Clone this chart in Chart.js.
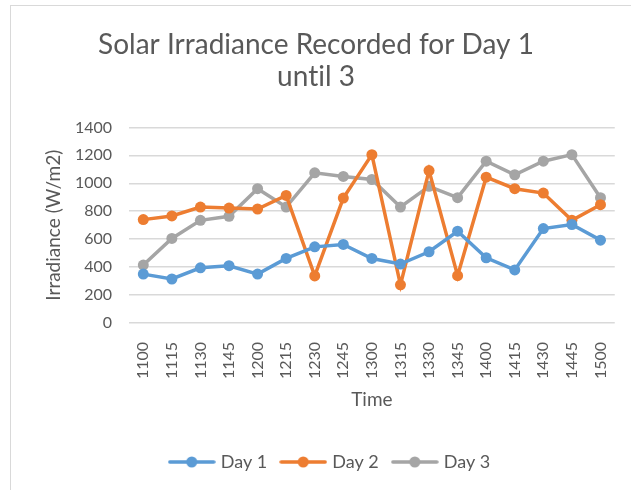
<!DOCTYPE html>
<html>
<head>
<meta charset="utf-8">
<script src="https://cdn.jsdelivr.net/npm/chart.js@4.4.0/dist/chart.umd.min.js"></script>
<style>
  html, body { margin: 0; padding: 0; background: #fff; }
  #frame {
    position: absolute; left: 10px; top: 5px; width: 700px; height: 600px;
    border: 1px solid #D9D9D9; box-sizing: border-box;
  }
  #wrap { position: absolute; left: 0; top: 0; width: 631px; height: 490px; }
</style>
</head>
<body>
<div id="frame"></div>
<div id="wrap"><canvas id="chart" width="631" height="490"></canvas></div>
<script>
const times = ["1100", "1115", "1130", "1145", "1200", "1215", "1230", "1245", "1300",
  "1315", "1330", "1345", "1400", "1415", "1430", "1445", "1500"];

const day1 = [350, 315, 395, 410, 350, 462, 545, 562, 462, 422, 510, 657, 467, 380, 676, 705, 593];
const day2 = [740, 766, 830, 823, 816, 913, 337, 894, 1205, 273, 1091, 339, 1044, 961, 930, 735, 847];
const day3 = [415, 605, 735, 764, 961, 830, 1075, 1049, 1027, 830, 978, 897, 1158, 1061, 1158, 1205, 897];

const yTicks = [0, 200, 400, 600, 800, 1000, 1200, 1400];

const FONT = "Lato, 'Open Sans', sans-serif";
const TEXT = "#595959";

// legend marker: short line with a dot in the middle
function legendIcon(color) {
  const c = document.createElement("canvas");
  c.width = 48;
  c.height = 14;
  const g = c.getContext("2d");
  g.strokeStyle = color;
  g.lineWidth = 3.5;
  g.lineCap = "round";
  g.beginPath();
  g.moveTo(2, 7);
  g.lineTo(46, 7);
  g.stroke();
  g.fillStyle = color;
  g.beginPath();
  g.arc(24, 7, 5.5, 0, Math.PI * 2);
  g.fill();
  return c;
}

function series(label, data, color) {
  return {
    label: label,
    data: data,
    borderColor: color,
    backgroundColor: color,
    borderWidth: 3.5,
    pointRadius: 5.5,
    pointHoverRadius: 5.5,
    pointBorderWidth: 0,
    pointBackgroundColor: color,
    pointStyle: "circle",
    tension: 0,
    legendIcon: legendIcon(color),
  };
}

// legend sits a little right of centre in the original
const shiftLegend = {
  id: "shiftLegend",
  afterLayout(chart) {
    chart.legend.left += 15;
    chart.legend.right += 15;
  },
  beforeDraw(chart) {
    // no "ti" ligature in the title
    chart.ctx.textRendering = "optimizeSpeed";
  },
};

const ctx = document.getElementById("chart").getContext("2d");
new Chart(ctx, {
  type: "line",
  plugins: [shiftLegend],
  data: {
    labels: times,
    datasets: [
      series("Day 1", day1, "#5B9BD5"),
      series("Day 2", day2, "#ED7D31"),
      series("Day 3", day3, "#A5A5A5"),
    ],
  },
  options: {
    responsive: false,
    animation: false,
    layout: { padding: { left: 12, right: 11, top: 29, bottom: 9 } },
    plugins: {
      title: {
        display: true,
        text: ["Solar Irradiance Recorded for Day 1", "until 3"],
        color: TEXT,
        font: { family: FONT, size: 28, weight: "normal", lineHeight: 1.15 },
        padding: { top: 0, bottom: 34 },
      },
      legend: {
        position: "bottom",
        labels: {
          color: TEXT,
          font: { family: FONT, size: 18 },
          usePointStyle: true,
          pointStyleWidth: 40,
          padding: 16,
          generateLabels: function (chart) {
            return chart.data.datasets.map((ds, i) => ({
              text: ds.label,
              fontColor: TEXT,
              pointStyle: ds.legendIcon,
              datasetIndex: i,
              lineWidth: 0,
            }));
          },
        },
      },
      tooltip: { enabled: false },
    },
    scales: {
      x: {
        offset: true,
        afterFit: function (axis) {
          axis.height = 114;
        },
        grid: { display: false },
        border: { display: false },
        ticks: {
          color: TEXT,
          font: { family: FONT, size: 16 },
          minRotation: 90,
          maxRotation: 90,
          padding: 11,
        },
        title: {
          display: true,
          text: "Time",
          color: TEXT,
          font: { family: FONT, size: 19 },
          padding: { top: 0, bottom: 26 },
        },
      },
      y: {
        min: 0,
        max: 1400,
        afterBuildTicks: function (axis) {
          axis.ticks = yTicks.map((v) => ({ value: v }));
        },
        afterFit: function (axis) {
          axis.width = 117;
        },
        grid: { color: "#D9D9D9", lineWidth: 1.5, drawTicks: false },
        border: { display: false },
        ticks: {
          color: TEXT,
          font: { family: FONT, size: 16 },
          padding: 17,
          callback: (v) => String(v),
        },
        title: {
          display: true,
          text: "Irradiance (W/m2)",
          color: TEXT,
          font: { family: FONT, size: 19 },
          padding: { top: 30, bottom: 0 },
        },
      },
    },
  },
});
</script>
</body>
</html>
